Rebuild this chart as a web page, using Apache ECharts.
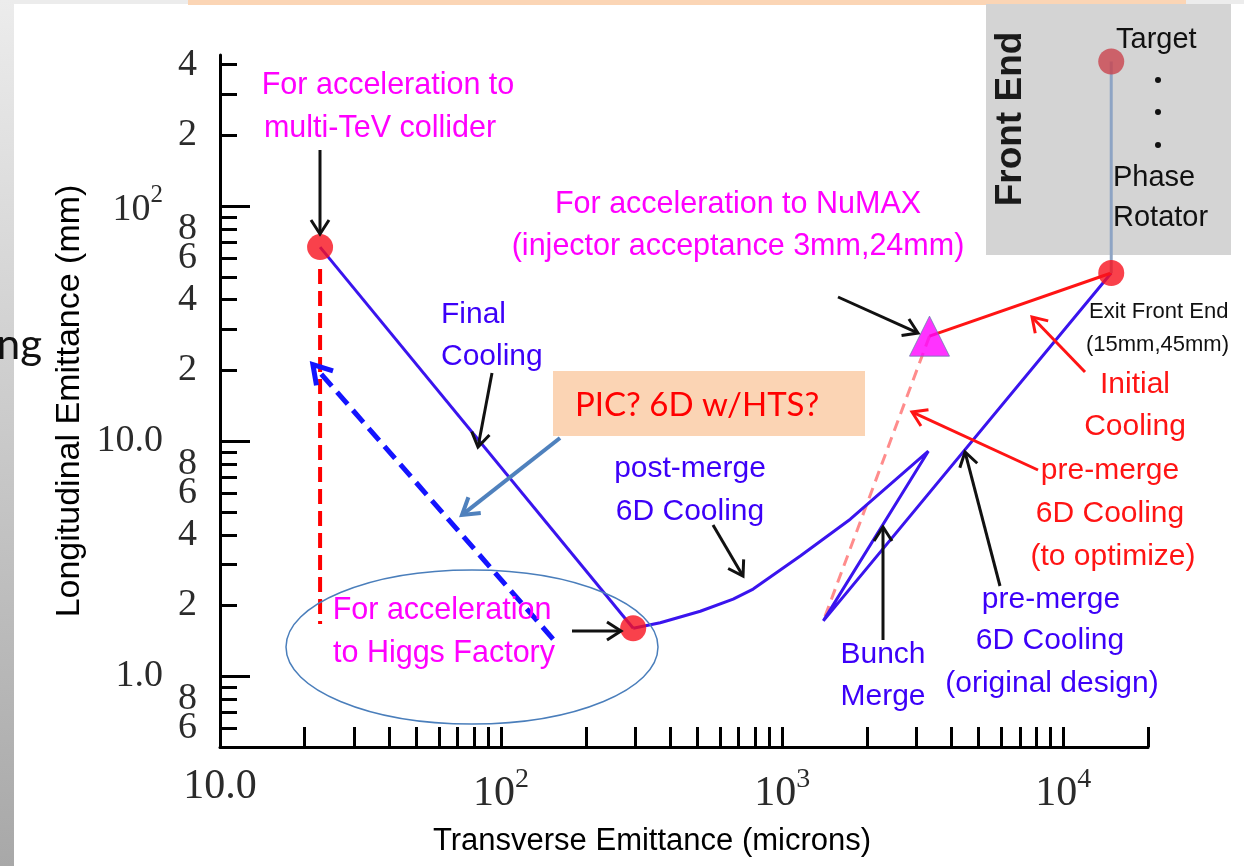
<!DOCTYPE html>
<html><head><meta charset="utf-8">
<script src="https://cdn.jsdelivr.net/npm/echarts@6/dist/echarts.min.js"></script>
<style>html,body{margin:0;padding:0;background:#fff;}#c{width:1244px;height:866px;}</style>
</head><body><div id="c"></div>
<script>
// ---------- data: transverse emittance (microns), longitudinal emittance (mm) ----------
const finalCooling      = [[22.7, 67], [295, 1.6]];
const coolingChain      = [[295, 1.6], [368, 1.69], [511, 1.89], [669, 2.13], [788, 2.35], [1159, 3.25], [1746, 4.66], [3308, 9.07], [1400, 1.72], [14800, 52]];
const initialCooling    = [[14800, 52], [3340, 28]];
const preMergeOptimize  = [[3340, 28], [1400, 1.72]];
const multiTeVProjection= [[22.7, 54], [22.7, 1.67]];
const picPath           = [[153, 1.44], [21.4, 21.2]];
const frontEndLine      = [[14800, 413], [14800, 52]];
const keyPoints         = [[22.7, 67], [295, 1.6], [14800, 52]];
const targetPoint       = [[14800, 413]];
const numaxPoint        = [[3340, 28]];

// ---------- axes ----------
const xRange = [10, 20000];
const yRange = [0.5, 440];
const xTickValues = [20,30,40,50,60,70,80,90,100,200,300,400,500,600,700,800,900,1000,2000,3000,4000,5000,6000,7000,8000,9000,10000,20000];
const xLabelValues = [10, 100, 1000, 10000];
const xLabelTexts  = ['10.0', '10^2', '10^3', '10^4'];
const yMinorTickValues = [0.6,0.7,0.8,0.9,2,3,4,5,6,7,8,9,20,30,40,50,60,70,80,90,200,300,400];
const yMinorLabelValues = [0.6,2,4,6,8,20,40,60,80,200,400];
const yMinorLabelTexts  = ['6','2','4','6','8','2','4','6','8','2','4'];
const yExtraLabelValues = [0.8];
const yExtraLabelTexts  = ['8'];
const yMajorValues = [1, 10, 100];
const yMajorTexts  = ['1.0', '10.0', '10^2'];

const lg = Math.log10;
const L = p => [lg(p[0]), lg(p[1])];
const SANS = '"Liberation Sans", Arial, Helvetica, sans-serif';
const SERIF = '"Liberation Serif", "DejaVu Serif", serif';
const LABEL_COLOR = '#2b2b2b';
const BLUE_LINE = '#3a14ee';
const BLUE_TEXT = '#3c00f8';
const MAGENTA = '#ff00ff';
const RED = '#ff1414';

function pow(t){ const m = t.split('^'); return m.length > 1 ? '{b|' + m[0] + '}{s|' + m[1] + '}' : '{b|' + t + '}'; }
function lookup(vals, texts, v){ const i = vals.findIndex(x => Math.abs(lg(x) - v) < 1e-6); return i >= 0 ? pow(texts[i]) : ''; }
const richX = {
  b: {fontSize: 42, fontFamily: SERIF, color: LABEL_COLOR, lineHeight: 42, verticalAlign: 'bottom'},
  s: {fontSize: 28, fontFamily: SERIF, color: LABEL_COLOR, verticalAlign: 'bottom', padding: [0, 0, 21, 0]}
};
const richY = {
  b: {fontSize: 38, fontFamily: SERIF, color: LABEL_COLOR, lineHeight: 38, verticalAlign: 'bottom'},
  s: {fontSize: 25, fontFamily: SERIF, color: LABEL_COLOR, verticalAlign: 'bottom', padding: [0, 0, 21, 0]}
};
const tickStyle = {color: '#000', width: 3};
function labelOnlyY(vals, texts, margin, tickLen){
  return {
    type: 'value', min: lg(yRange[0]), max: lg(yRange[1]), position: 'left',
    axisLine: {show: false, onZero: false},
    axisTick: tickLen ? {show: true, inside: true, length: tickLen, lineStyle: tickStyle, customValues: vals.map(lg)} : {show: false},
    axisLabel: {show: true, customValues: vals.map(lg), margin: margin, showMinLabel: true, showMaxLabel: true,
      formatter: v => lookup(vals, texts, v), rich: richY},
    splitLine: {show: false}
  };
}

const chart = echarts.init(document.getElementById('c'), null, {renderer: 'canvas'});
const option = {
  animation: false,
  backgroundColor: '#fff',
  grid: {left: 220, right: 96, top: 55, bottom: 119},
  xAxis: {
    type: 'value', min: lg(xRange[0]), max: lg(xRange[1]),
    axisLine: {show: true, onZero: false, lineStyle: {color: '#000', width: 3}},
    axisTick: {show: true, inside: true, length: 20, lineStyle: tickStyle, customValues: xTickValues.map(lg)},
    axisLabel: {show: true, customValues: xLabelValues.map(lg), margin: 19, showMinLabel: true, showMaxLabel: true,
      formatter: v => lookup(xLabelValues, xLabelTexts, v), rich: richX},
    splitLine: {show: false},
    name: 'Transverse Emittance (microns)', nameLocation: 'middle', nameGap: 79,
    nameTextStyle: {fontFamily: SANS, fontSize: 31, color: '#000', padding: [0, 64, 0, 0]}
  },
  yAxis: [
    {
      type: 'value', min: lg(yRange[0]), max: lg(yRange[1]), position: 'left',
      axisLine: {show: true, onZero: false, lineStyle: {color: '#000', width: 3}},
      axisTick: {show: true, inside: true, length: 17, lineStyle: tickStyle, customValues: yMinorTickValues.map(lg)},
      axisLabel: {show: true, customValues: yMinorLabelValues.map(lg), margin: 23, showMinLabel: true, showMaxLabel: true, hideOverlap: false,
        formatter: v => lookup(yMinorLabelValues, yMinorLabelTexts, v), rich: richY},
      splitLine: {show: false},
      name: 'Longitudinal Emittance (mm)', nameLocation: 'middle', nameGap: 133,
      nameTextStyle: {fontFamily: SANS, fontSize: 34, color: '#000'}
    },
    labelOnlyY(yMajorValues, yMajorTexts, 57, 30),
    labelOnlyY(yExtraLabelValues, yExtraLabelTexts, 23, 0)
  ],
  series: [
    {name: 'Final Cooling', type: 'line', data: finalCooling.map(L), symbol: 'none', lineStyle: {color: BLUE_LINE, width: 3}, z: 3},
    {name: 'Cooling chain', type: 'line', data: coolingChain.map(L), symbol: 'none', lineStyle: {color: BLUE_LINE, width: 3}, z: 3},
    {name: 'Initial Cooling', type: 'line', data: initialCooling.map(L), symbol: 'none', lineStyle: {color: RED, width: 3}, z: 3},
    {name: 'pre-merge 6D (to optimize)', type: 'line', data: preMergeOptimize.map(L), symbol: 'none', lineStyle: {color: '#ff8c8c', width: 3, type: [11, 7]}, z: 2},
    {name: 'multi-TeV projection', type: 'line', data: multiTeVProjection.map(L), symbol: 'none', lineStyle: {color: '#ff0000', width: 4, type: [15, 7]}, z: 3},
    {name: 'PIC path', type: 'line', data: picPath.map(L), symbol: 'none', lineStyle: {color: '#1414ff', width: 5, type: [16, 8]}, z: 3},
    {name: 'Front End', type: 'line', data: frontEndLine.map(L), symbol: 'none', lineStyle: {color: '#8ea4c4', width: 3}, z: 3},
    {name: 'stages', type: 'scatter', data: keyPoints.map(L), symbolSize: 26, itemStyle: {color: '#f8121e'}, z: 5},
    {name: 'Target', type: 'scatter', data: targetPoint.map(L), symbolSize: 26, itemStyle: {color: '#c9444e'}, z: 5},
    {name: 'NuMAX', type: 'scatter', data: numaxPoint.map(L), symbol: 'triangle', symbolSize: [40, 40], itemStyle: {color: '#ff00ff', borderColor: '#6a7bb0', borderWidth: 1}, z: 6}
  ]
};
chart.setOption(option);

// ---------- annotations ----------
function arrow(x1, y1, x2, y2, color, w, head, half){
  const dx = x2 - x1, dy = y2 - y1, len = Math.hypot(dx, dy), ux = dx / len, uy = dy / len, nx = -uy, ny = ux;
  head = head || 14; half = half || 9;
  return [
    {type: 'line', z: 20, shape: {x1: x1, y1: y1, x2: x2 - ux * 1, y2: y2 - uy * 1}, style: {stroke: color, lineWidth: w}},
    {type: 'polyline', z: 20, shape: {points: [[x2 - ux * head + nx * half, y2 - uy * head + ny * half], [x2, y2], [x2 - ux * head - nx * half, y2 - uy * head - ny * half]]},
     style: {stroke: color, lineWidth: w, fill: null, lineJoin: 'miter'}}
  ];
}
function txt(s, x, y, color, size, align, extra){
  return Object.assign({type: 'text', z: 30, x: x, y: y,
    style: {text: s, fill: color, font: (extra && extra.weight ? extra.weight + ' ' : '') + size + 'px ' + (extra && extra.family ? extra.family : SANS), textAlign: align || 'center', textVerticalAlign: 'middle'}},
    extra && extra.el ? extra.el : {});
}
const g = [];
// slide background pieces
g.push({type: 'rect', z: 0, shape: {x: 0, y: 0, width: 14, height: 866}, style: {fill: new echarts.graphic.LinearGradient(0, 0, 0, 1, [{offset: 0, color: '#ececec'}, {offset: 1, color: '#a8a8a8'}])}});
g.push({type: 'rect', z: 0, shape: {x: 14, y: 0, width: 174, height: 4}, style: {fill: '#ececec'}});
g.push({type: 'rect', z: 0, shape: {x: 188, y: 0, width: 998, height: 5}, style: {fill: '#fbd5b5'}});
g.push({type: 'rect', z: 0, shape: {x: 1186, y: 0, width: 58, height: 4}, style: {fill: '#ececec'}});
g.push({type: 'text', z: 30, x: 42, y: 366, style: {text: 'ng', fill: '#111', font: '42px Lato, "Open Sans", sans-serif', textAlign: 'right', textVerticalAlign: 'bottom'}});
// Front End box
g.push({type: 'rect', z: 0, shape: {x: 986, y: 4, width: 245, height: 251}, style: {fill: '#d4d4d4'}});
g.push({type: 'text', z: 30, x: 1011, y: 119, rotation: Math.PI / 2, style: {text: 'Front End', fill: '#1a1a1a', font: 'bold 37px ' + SANS, textAlign: 'center', textVerticalAlign: 'middle'}});
g.push(txt('Target', 1116, 40, '#111', 29, 'left'));
g.push(txt('Phase', 1113, 178, '#111', 29, 'left'));
g.push(txt('Rotator', 1113, 218, '#111', 29, 'left'));
[80, 112, 145].forEach(y => g.push({type: 'circle', z: 30, shape: {cx: 1158, cy: y, r: 3}, style: {fill: '#111'}}));
g.push(txt('Exit Front End', 1089, 312, '#111', 22, 'left'));
g.push(txt('(15mm,45mm)', 1086, 345, '#111', 22, 'left'));
// PIC box
g.push({type: 'rect', z: 25, shape: {x: 553, y: 371, width: 312, height: 65}, style: {fill: '#fbd4b4'}});
g.push(txt('PIC? 6D w/HTS?', 575, 405, '#ff0000', 33, 'left', {family: 'Lato, "Open Sans", sans-serif'}));
// Higgs ellipse
g.push({type: 'ellipse', z: 4, shape: {cx: 472, cy: 647, rx: 186, ry: 77}, style: {fill: null, stroke: '#4a7ebb', lineWidth: 1.5}});
// magenta labels
g.push(txt('For acceleration to', 388, 86, MAGENTA, 30.5));
g.push(txt('multi-TeV collider', 380, 129, MAGENTA, 30.5));
g.push(txt('For acceleration to NuMAX', 738, 205, MAGENTA, 30.5));
g.push(txt('(injector acceptance 3mm,24mm)', 738, 247, MAGENTA, 30.5));
g.push(txt('For acceleration', 442, 611, MAGENTA, 30.5));
g.push(txt('to Higgs Factory', 444, 654, MAGENTA, 30.5));
// blue labels
g.push(txt('Final', 441, 315, BLUE_TEXT, 30, 'left'));
g.push(txt('Cooling', 441, 357, BLUE_TEXT, 30, 'left'));
g.push(txt('post-merge', 690, 469, BLUE_TEXT, 30));
g.push(txt('6D Cooling', 690, 512, BLUE_TEXT, 30));
g.push(txt('Bunch', 883, 655, BLUE_TEXT, 30));
g.push(txt('Merge', 883, 697, BLUE_TEXT, 30));
g.push(txt('pre-merge', 1051, 600, BLUE_TEXT, 30));
g.push(txt('6D Cooling', 1050, 641, BLUE_TEXT, 30));
g.push(txt('(original design)', 1052, 684, BLUE_TEXT, 30));
// red labels
g.push(txt('Initial', 1135, 385, RED, 30));
g.push(txt('Cooling', 1135, 427, RED, 30));
g.push(txt('pre-merge', 1110, 471, RED, 30));
g.push(txt('6D Cooling', 1110, 514, RED, 30));
g.push(txt('(to optimize)', 1113, 557, RED, 30));
// arrows
g.push(...arrow(320, 150, 320, 234, '#111', 3));
g.push(...arrow(838, 297, 918, 333, '#111', 3));
g.push(...arrow(492, 373, 478, 447, '#111', 3));
g.push(...arrow(713, 525, 743, 576, '#111', 3));
g.push(...arrow(883, 640, 883, 527, '#111', 3));
g.push(...arrow(1000, 586, 965, 452, '#111', 3));
g.push(...arrow(572, 631, 621, 631, '#111', 3));
g.push(...arrow(1085, 372, 1032, 317, RED, 3));
g.push(...arrow(1038, 470, 912, 412, RED, 3));
g.push(...arrow(560, 438, 462, 515, '#4f81bd', 4, 16, 10));
// arrowhead of the dashed PIC path, positioned through the axes
const pa = chart.convertToPixel({gridIndex: 0}, L(picPath[0]));
const pb = chart.convertToPixel({gridIndex: 0}, L(picPath[1]));
(function(){
  const dx = pb[0] - pa[0], dy = pb[1] - pa[1], len = Math.hypot(dx, dy), ux = dx / len, uy = dy / len, nx = -uy, ny = ux;
  const h = 18, hw = 11;
  g.push({type: 'polyline', z: 20, shape: {points: [[pb[0] - ux * h + nx * hw, pb[1] - uy * h + ny * hw], [pb[0], pb[1]], [pb[0] - ux * h - nx * hw, pb[1] - uy * h - ny * hw]]},
    style: {stroke: '#1414ff', lineWidth: 5, fill: null}});
})();
chart.setOption({graphic: g});
</script>
</body></html>
